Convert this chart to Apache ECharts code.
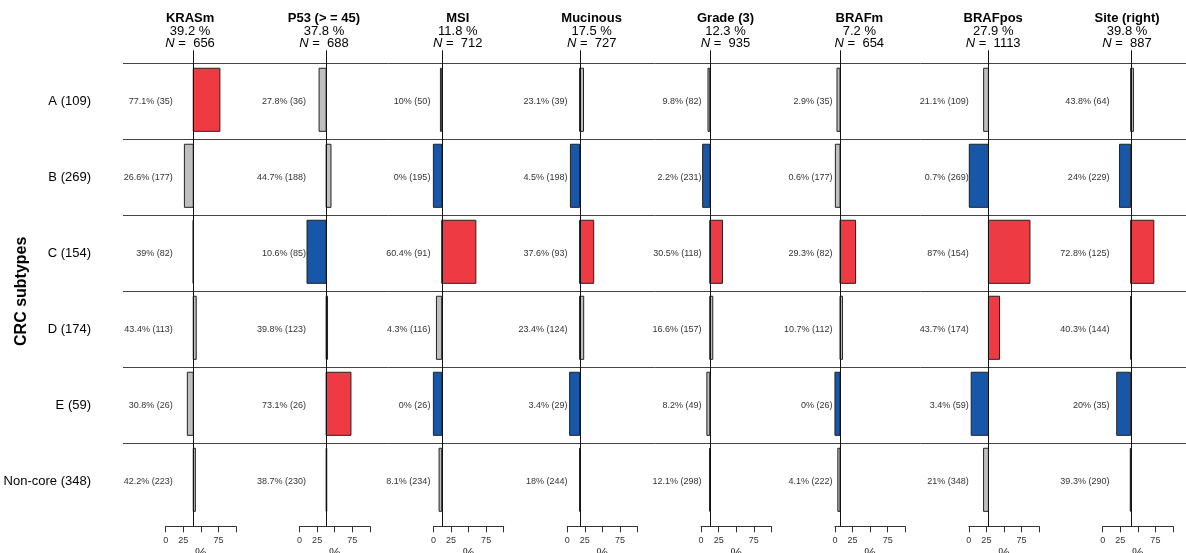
<!DOCTYPE html>
<html style="height: 100%">
<head>
  <meta charset="utf-8">
  <title>CRC subtypes</title>
</head>
<body style="height: 100%; margin: 0; background: #fff">
<div id="container" style="width: 1186px; height: 553px"></div>
<script src="https://cdn.jsdelivr.net/npm/echarts@6/dist/echarts.min.js"></script>
<script>
  // rows (subtype + size) and panel headers
  const rows = ['A (109)', 'B (269)', 'C (154)', 'D (174)', 'E (59)', 'Non-core (348)'];
  const features = ['KRASm', 'P53 (> = 45)', 'MSI', 'Mucinous', 'Grade (3)', 'BRAFm', 'BRAFpos', 'Site (right)'];
  const overall = [39.2, 37.8, 11.8, 17.5, 12.3, 7.2, 27.9, 39.8];
  const totalN = [656, 688, 712, 727, 935, 654, 1113, 887];

  // per subtype % and counts; sig: 1 = higher (red), -1 = lower (blue), 0 = n.s.
  const krasPct = [77.1, 26.6, 39, 43.4, 30.8, 42.2];
  const krasN = [35, 177, 82, 113, 26, 223];
  const krasSig = [1, 0, 0, 0, 0, 0];
  const p53Pct = [27.8, 44.7, 10.6, 39.8, 73.1, 38.7];
  const p53N = [36, 188, 85, 123, 26, 230];
  const p53Sig = [0, 0, -1, 0, 1, 0];
  const msiPct = [10, 0, 60.4, 4.3, 0, 8.1];
  const msiN = [50, 195, 91, 116, 26, 234];
  const msiSig = [0, -1, 1, 0, -1, 0];
  const mucPct = [23.1, 4.5, 37.6, 23.4, 3.4, 18];
  const mucN = [39, 198, 93, 124, 29, 244];
  const mucSig = [0, -1, 1, 0, -1, 0];
  const gradePct = [9.8, 2.2, 30.5, 16.6, 8.2, 12.1];
  const gradeN = [82, 231, 118, 157, 49, 298];
  const gradeSig = [0, -1, 1, 0, 0, 0];
  const brafmPct = [2.9, 0.6, 29.3, 10.7, 0, 4.1];
  const brafmN = [35, 177, 82, 112, 26, 222];
  const brafmSig = [0, 0, 1, 0, -1, 0];
  const brafposPct = [21.1, 0.7, 87, 43.7, 3.4, 21];
  const brafposN = [109, 269, 154, 174, 59, 348];
  const brafposSig = [0, -1, 1, 1, -1, 0];
  const sitePct = [43.8, 24, 72.8, 40.3, 20, 39.3];
  const siteN = [64, 229, 125, 144, 35, 290];
  const siteSig = [0, -1, 1, 0, -1, 0];

  const pcts = [krasPct, p53Pct, msiPct, mucPct, gradePct, brafmPct, brafposPct, sitePct];
  const counts = [krasN, p53N, msiN, mucN, gradeN, brafmN, brafposN, siteN];
  const sigs = [krasSig, p53Sig, msiSig, mucSig, gradeSig, brafmSig, brafposSig, siteSig];

  // layout (px) and where the text labels sit (in % units of each panel)
  const FONT = '"Liberation Sans", Arial, Helvetica, sans-serif';
  const TOP = 63.3, ROWH = 76, PANEL0 = 165.7, STEP = 133.85, PW = 70.3;
  const labelAt = [10, 9.3, -4.3, 0.3, 0.7, -3.6, 0, 9.6];
  const colors = { '1': '#EE3A42', '-1': '#1857A7', '0': '#BEBFC1' };

  var dom = document.getElementById('container');
  var myChart = echarts.init(dom);

  const grids = [{ left: 123, right: 0, top: TOP, height: ROWH * rows.length,
    containLabel: false, outerBoundsMode: 'none' }];
  const xAxes = [{ gridIndex: 0, type: 'value', min: 0, max: 1, show: false }];
  const yAxes = [{
    gridIndex: 0, type: 'category', data: rows, inverse: true,
    axisLine: { show: false }, axisTick: { show: false }, splitLine: { show: false },
    axisLabel: { fontSize: 13, color: '#000', margin: 32, fontFamily: FONT },
    name: 'CRC subtypes', nameLocation: 'middle', nameRotate: 90, nameGap: 93,
    nameMoveOverlap: false,
    nameTextStyle: { fontSize: 16, fontWeight: 'bold', color: '#000', fontFamily: FONT }
  }];
  const series = [{
    type: 'custom', xAxisIndex: 0, yAxisIndex: 0, silent: true,
    data: rows.map((r, i) => [0, i]),
    encode: { x: 0, y: 1 },
    renderItem: function (params, api) {
      const c = api.coord([0, api.value(1)]);
      const band = api.size([0, 1])[1];
      const cs = params.coordSys;
      const y = Math.round(c[1] - band / 2) + 0.5;
      return { type: 'line', shape: { x1: cs.x, y1: y, x2: cs.x + cs.width, y2: y },
        style: { stroke: '#444', lineWidth: 1 } };
    }
  }];
  const graphics = [];

  features.forEach((f, k) => {
    const gi = k + 1;
    const left = PANEL0 + STEP * k;
    grids.push({ left: left, width: PW, top: TOP, height: ROWH * rows.length,
      containLabel: false, outerBoundsMode: 'none' });
    xAxes.push({
      gridIndex: gi, type: 'value', min: 0, max: 100, interval: 25, offset: 7,
      axisLine: { show: true, lineStyle: { color: '#333', width: 1 } },
      axisTick: { show: true, length: 6, inside: false, lineStyle: { color: '#333' } },
      splitLine: { show: false },
      axisLabel: { fontSize: 9, color: '#333', margin: 10, fontFamily: FONT,
        formatter: v => (v === 50 || v === 100) ? '' : String(v) },
      name: '%', nameLocation: 'middle', nameGap: 21, nameMoveOverlap: false,
      nameTextStyle: { fontSize: 13, color: '#333', fontFamily: FONT }
    });
    yAxes.push({ gridIndex: gi, type: 'category', data: rows, inverse: true, show: false });

    // bars from overall % to subtype %, with text labels
    series.push({
      type: 'custom', xAxisIndex: gi, yAxisIndex: gi, silent: true,
      data: pcts[k].map((v, i) => [v, i, overall[k], sigs[k][i], counts[k][i]]),
      encode: { x: 0, y: 1 },
      renderItem: function (params, api) {
        const v = api.value(0), row = api.value(1), base = api.value(2);
        const sig = api.value(3), n = api.value(4);
        const p0 = api.coord([base, row]);
        const p1 = api.coord([v, row]);
        const h = api.size([0, 1])[1] * 0.83;
        const yc = p0[1] - 1.5;
        const lx = api.coord([labelAt[k], row])[0];
        return {
          type: 'group', children: [
            { type: 'rect',
              shape: { x: Math.min(p0[0], p1[0]), y: yc - h / 2, width: Math.abs(p1[0] - p0[0]), height: h },
              style: { fill: colors[String(sig)], stroke: '#222', lineWidth: 1 } },
            { type: 'text', x: lx, y: p0[1],
              style: { text: v + '% (' + n + ')', align: 'right', verticalAlign: 'middle',
                fontSize: 9, fill: '#333', fontFamily: FONT } }
          ]
        };
      }
    });
    // vertical reference line at the overall %
    series.push({
      type: 'custom', xAxisIndex: gi, yAxisIndex: gi, silent: true, z: 3,
      data: [[overall[k], 0]],
      encode: { x: 0, y: 1 },
      renderItem: function (params, api) {
        const x = Math.round(api.coord([api.value(0), 0])[0]) + 0.5;
        const cs = params.coordSys;
        return { type: 'line', shape: { x1: x, y1: cs.y - 13, x2: x, y2: cs.y + cs.height + 7 },
          style: { stroke: '#111', lineWidth: 1 } };
      }
    });

    const cx = left + 24.4;
    graphics.push({ type: 'text', x: cx, y: 18.3,
      style: { text: f, align: 'center', verticalAlign: 'middle', fontSize: 13, fontWeight: 'bold',
        fill: '#000', fontFamily: FONT } });
    graphics.push({ type: 'text', x: cx, y: 31.5,
      style: { text: overall[k] + ' %', align: 'center', verticalAlign: 'middle', fontSize: 13,
        fill: '#000', fontFamily: FONT } });
    graphics.push({ type: 'text', x: cx, y: 43.3,
      style: { text: '{i|N} =  ' + totalN[k], align: 'center', verticalAlign: 'middle', fontSize: 13,
        fill: '#000', fontFamily: FONT,
        rich: { i: { fontStyle: 'italic', fontSize: 13, fill: '#000', fontFamily: FONT } } } });
  });

  myChart.setOption({
    animation: false,
    backgroundColor: '#fff',
    grid: grids,
    xAxis: xAxes,
    yAxis: yAxes,
    series: series,
    graphic: graphics
  });
</script>
</body>
</html>
